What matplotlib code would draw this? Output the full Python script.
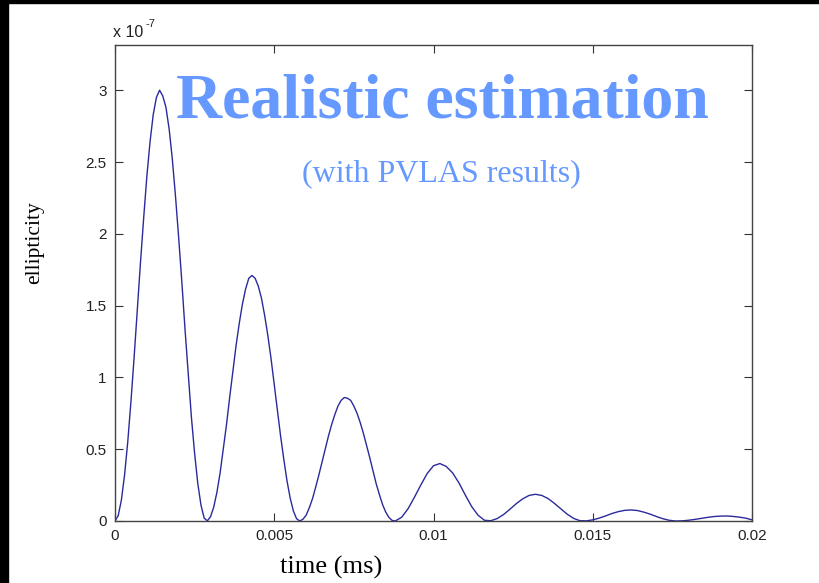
import numpy as np
import matplotlib
matplotlib.use('Agg')
import matplotlib.pyplot as plt

# time axis (ms): fine steps over the three big lobes, coarser afterwards
time_ms = np.round(np.concatenate([np.arange(0, 89) * 0.0001,
                                   0.009 + np.arange(0, 56) * 0.0002]), 4)

# ellipticity in units of 1e-7
ellipticity = [
    # 0 .. 0.0088, step 0.0001
    0.00, 0.037, 0.145, 0.32, 0.55, 0.83, 1.14, 1.47, 1.80, 2.11,
    2.40, 2.64, 2.83, 2.95, 3.00, 2.96, 2.88, 2.73, 2.52, 2.26,
    1.97, 1.66, 1.33, 1.02, 0.72, 0.47, 0.26, 0.11, 0.02, 0.001,
    0.03, 0.097, 0.20, 0.335, 0.50, 0.67, 0.86, 1.04, 1.22, 1.375,
    1.51, 1.615, 1.69, 1.71, 1.69, 1.635, 1.55, 1.43, 1.29, 1.13,
    0.95, 0.77, 0.59, 0.43, 0.28, 0.16, 0.07, 0.016, 0.00, 0.012,
    0.04, 0.092, 0.155, 0.235, 0.32, 0.41, 0.50, 0.59, 0.67, 0.74,
    0.80, 0.84, 0.86, 0.855, 0.84, 0.80, 0.75, 0.685, 0.61, 0.525,
    0.44, 0.35, 0.26, 0.185, 0.115, 0.062, 0.025, 0.004, 0.00,
    # 0.009 .. 0.02, step 0.0002
    0.026, 0.085, 0.165, 0.25, 0.33, 0.385, 0.40, 0.38, 0.335, 0.265,
    0.18, 0.10, 0.04, 0.005, 0.002, 0.017, 0.045, 0.082, 0.121, 0.154,
    0.178, 0.186, 0.178, 0.156, 0.122, 0.084, 0.047, 0.018, 0.002, 0.001,
    0.008, 0.020, 0.035, 0.052, 0.065, 0.074, 0.077, 0.073, 0.062, 0.048,
    0.031, 0.016, 0.005, 0.000, 0.001, 0.005, 0.011, 0.018, 0.025, 0.031,
    0.034, 0.035, 0.032, 0.027, 0.020, 0.008,
]

xticks = [0, 0.005, 0.01, 0.015, 0.02]
xticklabels = ['0', '0.005', '0.01', '0.015', '0.02']
yticks = [0, 0.5, 1, 1.5, 2, 2.5, 3]
yticklabels = ['0', '0.5', '1', '1.5', '2', '2.5', '3']

W, H = 819, 583
fig = plt.figure(figsize=(W / 100, H / 100), dpi=100)
fig.patch.set_facecolor('white')

# black frame strips along the top and left edge
fig.patches.append(plt.Rectangle((0, 1 - 3 / H), 1, 3 / H, transform=fig.transFigure,
                                 color='black', zorder=0))
fig.patches.append(plt.Rectangle((0, 0), 7.5 / W, 1, transform=fig.transFigure,
                                 color='black', zorder=0))

ax = fig.add_axes([115 / W, (H - 521) / H, (752 - 115) / W, (521 - 45) / H])
ax.plot(time_ms, ellipticity, color='#2a2a9c', lw=1.0)

ax.set_xlim(0, 0.02)
ax.set_ylim(0, 3.315)
ax.set_xticks(xticks)
ax.set_xticklabels(xticklabels)
ax.set_yticks(yticks)
ax.set_yticklabels(yticklabels)
ax.tick_params(direction='in', length=6, width=0.8, top=True, right=True,
               color='#333333', labelcolor='#222222', labelsize=11, pad=6)
for lab in ax.get_xticklabels() + ax.get_yticklabels():
    lab.set_family('Liberation Sans')
for sp in ax.spines.values():
    sp.set_color('#444444')
    sp.set_linewidth(1.0)

# exponent marker above the y axis
fig.text(113 / W, 1 - 37 / H, 'x 10', family='Liberation Sans', fontsize=11.5,
         color='#222222', va='baseline')
fig.text(146 / W, 1 - 27 / H, '-7', family='Liberation Sans', fontsize=8,
         color='#222222', va='baseline')

fig.text(331 / W, 16 / H, 'time (ms)', family='Liberation Serif', fontsize=19,
         ha='center', va='center')
fig.text(35 / W, 1 - 243 / H, 'ellipticity', family='Liberation Serif', fontsize=15.5,
         ha='center', va='center', rotation=90)

blue = '#6699ff'
fig.text(442 / W, 1 - 117 / H, 'Realistic estimation', family='Liberation Serif',
         fontweight='bold', fontsize=46, color=blue, ha='center', va='baseline')
fig.text(441 / W, 1 - 181 / H, '(with PVLAS results)', family='Liberation Serif',
         fontsize=23, color=blue, ha='center', va='baseline')

fig.savefig('out.png', dpi=100)
